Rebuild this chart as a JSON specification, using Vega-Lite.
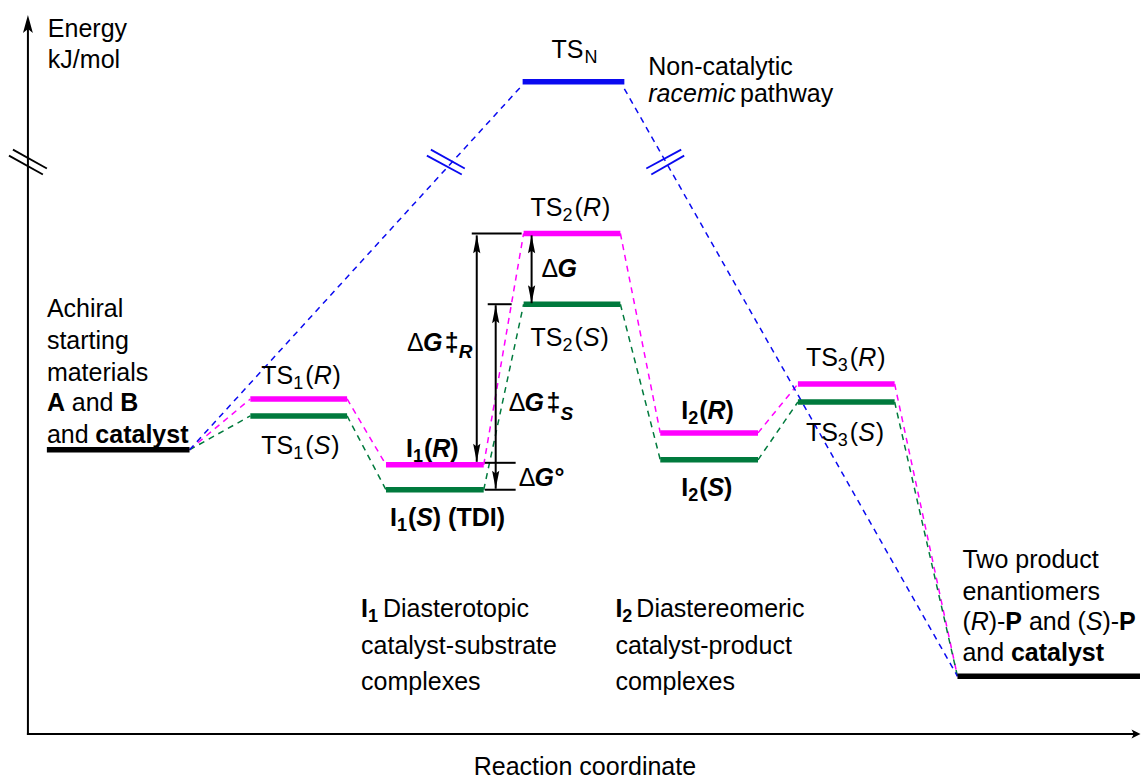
{
  "$schema": "https://vega.github.io/schema/vega-lite/v6.json",
  "width": 1143,
  "height": 780,
  "autosize": {"type": "fit", "contains": "padding"},
  "padding": 0,
  "background": "white",
  "config": {"view": {"stroke": null}},
  "datasets": {
    "axes": [
      {"x": 28, "x2": 28, "e": -286, "e2": 428},
      {"x": 27, "x2": 1137, "e": -285, "e2": -285}
    ],
    "axisUp": [{"x": 28, "e": 427}],
    "axisRight": [{"x": 1139, "e": -285}],
    "breaks": [
      {"path": "common", "x": 13, "e": 301, "x2": 47, "e2": 282},
      {"path": "common", "x": 9, "e": 295, "x2": 43, "e2": 276},
      {"path": "N", "x": 432, "e": 301, "x2": 466, "e2": 282},
      {"path": "N", "x": 428, "e": 295, "x2": 463, "e2": 276},
      {"path": "N", "x": 648, "e": 282, "x2": 683, "e2": 301},
      {"path": "N", "x": 653, "e": 276, "x2": 686, "e2": 295}
    ],
    "connectors": [
      {"path": "R", "x": 190, "e": 0, "x2": 251, "e2": 51},
      {"path": "R", "x": 348, "e": 51, "x2": 387, "e2": -15},
      {"path": "R", "x": 485, "e": -15, "x2": 525, "e2": 217},
      {"path": "R", "x": 622, "e": 217, "x2": 662, "e2": 17},
      {"path": "R", "x": 760, "e": 17, "x2": 800, "e2": 66},
      {"path": "R", "x": 897, "e": 66, "x2": 960, "e2": -227},
      {"path": "S", "x": 190, "e": 0, "x2": 251, "e2": 34},
      {"path": "S", "x": 348, "e": 34, "x2": 387, "e2": -40},
      {"path": "S", "x": 485, "e": -40, "x2": 525, "e2": 146},
      {"path": "S", "x": 622, "e": 146, "x2": 662, "e2": -10},
      {"path": "S", "x": 760, "e": -10, "x2": 800, "e2": 48},
      {"path": "S", "x": 897, "e": 48, "x2": 960, "e2": -227},
      {"path": "N", "x": 190, "e": 0, "x2": 524, "e2": 366},
      {"path": "N", "x": 626, "e": 362, "x2": 960, "e2": -227}
    ],
    "levels": [
      {"state": "A + B + catalyst", "path": "common", "x": 47, "x2": 190, "e": 0},
      {"state": "TS1(R)", "path": "R", "x": 251, "x2": 348, "e": 51},
      {"state": "TS1(S)", "path": "S", "x": 251, "x2": 348, "e": 34},
      {"state": "I1(R)", "path": "R", "x": 387, "x2": 485, "e": -15},
      {"state": "I1(S)", "path": "S", "x": 387, "x2": 485, "e": -40},
      {"state": "TS2(R)", "path": "R", "x": 525, "x2": 622, "e": 217},
      {"state": "TS2(S)", "path": "S", "x": 525, "x2": 622, "e": 146},
      {"state": "TSN", "path": "N", "x": 524, "x2": 626, "e": 369},
      {"state": "I2(R)", "path": "R", "x": 662, "x2": 760, "e": 17},
      {"state": "I2(S)", "path": "S", "x": 662, "x2": 760, "e": -10},
      {"state": "TS3(R)", "path": "R", "x": 800, "x2": 897, "e": 66},
      {"state": "TS3(S)", "path": "S", "x": 800, "x2": 897, "e": 48},
      {"state": "P + catalyst", "path": "common", "x": 960, "x2": 1143, "e": -227}
    ],
    "guides": [
      {"x": 473, "x2": 523, "e": 217, "e2": 217},
      {"x": 489, "x2": 513, "e": 146, "e2": 146},
      {"x": 486, "x2": 517, "e": -13, "e2": -13},
      {"x": 486, "x2": 517, "e": -40, "e2": -40},
      {"x": 478, "x2": 478, "e": 215, "e2": -12},
      {"x": 497, "x2": 497, "e": 145, "e2": -39},
      {"x": 533, "x2": 533, "e": 215, "e2": 147}
    ],
    "headsUp": [
      {"x": 478, "e": 206}, {"x": 497, "e": 136}, {"x": 533, "e": 206}
    ],
    "headsDown": [
      {"x": 478, "e": -3}, {"x": 497, "e": -30}, {"x": 533, "e": 156}
    ],
    "regular": [
      {"t": "Energy", "x": 48, "e": 414},
      {"t": "kJ/mol", "x": 48, "e": 383},
      {"t": "TS", "x": 553, "e": 393},
      {"t": "Non-catalytic", "x": 650, "e": 376},
      {"t": "pathway", "x": 742, "e": 349},
      {"t": "Achiral", "x": 47, "e": 133},
      {"t": "starting", "x": 47, "e": 101},
      {"t": "materials", "x": 47, "e": 69},
      {"t": "and", "x": 72, "e": 39},
      {"t": "and", "x": 47, "e": 7},
      {"t": "TS", "x": 262, "e": 66}, {"t": "(", "x": 306, "e": 66}, {"t": ")", "x": 333.5, "e": 66},
      {"t": "TS", "x": 262, "e": -4}, {"t": "(", "x": 306, "e": -4}, {"t": ")", "x": 332, "e": -4},
      {"t": "TS", "x": 532, "e": 234}, {"t": "(", "x": 576, "e": 234}, {"t": ")", "x": 603.5, "e": 234},
      {"t": "TS", "x": 532, "e": 104}, {"t": "(", "x": 576, "e": 104}, {"t": ")", "x": 602, "e": 104},
      {"t": "TS", "x": 808, "e": 84}, {"t": "(", "x": 852, "e": 84}, {"t": ")", "x": 879.5, "e": 84},
      {"t": "TS", "x": 808, "e": 9}, {"t": "(", "x": 852, "e": 9}, {"t": ")", "x": 878, "e": 9},
      {"t": "Two product", "x": 965, "e": -118},
      {"t": "enantiomers", "x": 965, "e": -151},
      {"t": "(", "x": 965, "e": -181}, {"t": ")-", "x": 991.4, "e": -181}, {"t": "and", "x": 1031.6, "e": -181},
      {"t": "(", "x": 1080.3, "e": -181}, {"t": ")-", "x": 1105.3, "e": -181},
      {"t": "and", "x": 965, "e": -212},
      {"t": "Reaction coordinate", "x": 475, "e": -326},
      {"t": "Δ", "x": 408, "e": 99}, {"t": "Δ", "x": 510, "e": 39}, {"t": "Δ", "x": 543, "e": 173}, {"t": "Δ", "x": 520, "e": -36},
      {"t": "Diasterotopic", "x": 384, "e": -168},
      {"t": "catalyst-substrate", "x": 362, "e": -205},
      {"t": "complexes", "x": 362, "e": -241},
      {"t": "Diastereomeric", "x": 638, "e": -168},
      {"t": "catalyst-product", "x": 617, "e": -205},
      {"t": "complexes", "x": 617, "e": -241}
    ],
    "italic": [
      {"t": "racemic", "x": 650, "e": 349},
      {"t": "R", "x": 314.5, "e": 66}, {"t": "S", "x": 314.5, "e": -4},
      {"t": "R", "x": 584.5, "e": 234}, {"t": "S", "x": 584.5, "e": 104},
      {"t": "R", "x": 860.5, "e": 84}, {"t": "S", "x": 860.5, "e": 9},
      {"t": "R", "x": 973.3, "e": -181}, {"t": "S", "x": 1088.6, "e": -181}
    ],
    "bold": [
      {"t": "A", "x": 47, "e": 39}, {"t": "B", "x": 120.6, "e": 39}, {"t": "catalyst", "x": 95.6, "e": 7},
      {"t": "P", "x": 1008, "e": -181}, {"t": "P", "x": 1122, "e": -181}, {"t": "catalyst", "x": 1013.6, "e": -212},
      {"t": "I", "x": 407, "e": -7}, {"t": "(", "x": 425, "e": -7}, {"t": ")", "x": 451.4, "e": -7},
      {"t": "I", "x": 391, "e": -76}, {"t": "(", "x": 409, "e": -76}, {"t": ")", "x": 434, "e": -76}, {"t": "(TDI)", "x": 449.3, "e": -76},
      {"t": "I", "x": 683, "e": 31}, {"t": "(", "x": 701, "e": 31}, {"t": ")", "x": 727.4, "e": 31},
      {"t": "I", "x": 683, "e": -46}, {"t": "(", "x": 701, "e": -46}, {"t": ")", "x": 726, "e": -46},
      {"t": "I", "x": 362, "e": -168}, {"t": "I", "x": 617, "e": -168},
      {"t": "‡", "x": 446, "e": 99}, {"t": "‡", "x": 548, "e": 39}, {"t": "°", "x": 556, "e": -36}
    ],
    "boldItalic": [
      {"t": "R", "x": 433.3, "e": -7}, {"t": "S", "x": 417.3, "e": -76},
      {"t": "R", "x": 709.3, "e": 31}, {"t": "S", "x": 709.3, "e": -46},
      {"t": "G", "x": 424, "e": 99}, {"t": "G", "x": 526, "e": 39}, {"t": "G", "x": 559, "e": 173}, {"t": "G", "x": 536, "e": -36}
    ],
    "sub": [
      {"t": "N", "x": 586, "e": 388},
      {"t": "1", "x": 294, "e": 61}, {"t": "1", "x": 294, "e": -9},
      {"t": "2", "x": 564, "e": 229}, {"t": "2", "x": 564, "e": 99},
      {"t": "3", "x": 840, "e": 79}, {"t": "3", "x": 840, "e": 4}
    ],
    "boldSub": [
      {"t": "1", "x": 414, "e": -12}, {"t": "1", "x": 398, "e": -81},
      {"t": "2", "x": 690, "e": 26}, {"t": "2", "x": 690, "e": -51},
      {"t": "1", "x": 369, "e": -173}, {"t": "2", "x": 624, "e": -173}
    ],
    "boldItalicSub": [
      {"t": "R", "x": 460, "e": 92}, {"t": "S", "x": 562, "e": 30}
    ]
  },
  "layer": [
    {
      "data": {"name": "axes"},
      "mark": {"type": "rule", "strokeWidth": 2, "color": "black", "strokeCap": "butt"},
      "encoding": {
        "x": {"field": "x", "type": "quantitative", "scale": {"domain": [0, 1143], "nice": false, "zero": false}, "axis": null},
        "x2": {"field": "x2"},
        "y": {"field": "e", "type": "quantitative", "scale": {"domain": [-329, 451], "nice": false, "zero": false}, "axis": null},
        "y2": {"field": "e2"}
      }
    },
    {
      "data": {"name": "axisUp"},
      "mark": {"type": "point", "shape": "M0,-1L0.55,1L0,0.55L-0.55,1Z", "size": 324, "filled": true, "color": "black", "opacity": 1, "strokeWidth": 0},
      "encoding": {
        "x": {"field": "x", "type": "quantitative", "scale": {"domain": [0, 1143], "nice": false, "zero": false}, "axis": null},
        "y": {"field": "e", "type": "quantitative", "scale": {"domain": [-329, 451], "nice": false, "zero": false}, "axis": null}
      }
    },
    {
      "data": {"name": "axisRight"},
      "mark": {"type": "point", "shape": "M1,0L-1,-1L-0.5,0L-1,1Z", "size": 81, "filled": true, "color": "black", "opacity": 1, "strokeWidth": 0},
      "encoding": {
        "x": {"field": "x", "type": "quantitative", "scale": {"domain": [0, 1143], "nice": false, "zero": false}, "axis": null},
        "y": {"field": "e", "type": "quantitative", "scale": {"domain": [-329, 451], "nice": false, "zero": false}, "axis": null}
      }
    },
    {
      "data": {"name": "connectors"},
      "mark": {"type": "rule", "strokeWidth": 1.5, "strokeDash": [6, 5]},
      "encoding": {
        "x": {"field": "x", "type": "quantitative", "scale": {"domain": [0, 1143], "nice": false, "zero": false}, "axis": null},
        "x2": {"field": "x2"},
        "y": {"field": "e", "type": "quantitative", "scale": {"domain": [-329, 451], "nice": false, "zero": false}, "axis": null},
        "y2": {"field": "e2"},
        "color": {"field": "path", "type": "nominal", "scale": {"domain": ["common", "R", "S", "N"], "range": ["#000000", "#FF00FF", "#007A3D", "#0A0AF0"]}, "legend": null}
      }
    },
    {
      "data": {"name": "breaks"},
      "mark": {"type": "rule", "strokeWidth": 1.8},
      "encoding": {
        "x": {"field": "x", "type": "quantitative", "scale": {"domain": [0, 1143], "nice": false, "zero": false}, "axis": null},
        "x2": {"field": "x2"},
        "y": {"field": "e", "type": "quantitative", "scale": {"domain": [-329, 451], "nice": false, "zero": false}, "axis": null},
        "y2": {"field": "e2"},
        "color": {"field": "path", "type": "nominal", "scale": {"domain": ["common", "R", "S", "N"], "range": ["#000000", "#FF00FF", "#007A3D", "#0A0AF0"]}, "legend": null}
      }
    },
    {
      "data": {"name": "levels"},
      "mark": {"type": "rule", "strokeWidth": 5.5, "strokeCap": "butt"},
      "encoding": {
        "x": {"field": "x", "type": "quantitative", "scale": {"domain": [0, 1143], "nice": false, "zero": false}, "axis": null},
        "x2": {"field": "x2"},
        "y": {"field": "e", "type": "quantitative", "scale": {"domain": [-329, 451], "nice": false, "zero": false}, "axis": null},
        "color": {"field": "path", "type": "nominal", "scale": {"domain": ["common", "R", "S", "N"], "range": ["#000000", "#FF00FF", "#007A3D", "#0A0AF0"]}, "legend": null},
        "tooltip": {"field": "state"}
      }
    },
    {
      "data": {"name": "guides"},
      "mark": {"type": "rule", "strokeWidth": 2, "color": "black", "strokeCap": "butt"},
      "encoding": {
        "x": {"field": "x", "type": "quantitative", "scale": {"domain": [0, 1143], "nice": false, "zero": false}, "axis": null},
        "x2": {"field": "x2"},
        "y": {"field": "e", "type": "quantitative", "scale": {"domain": [-329, 451], "nice": false, "zero": false}, "axis": null},
        "y2": {"field": "e2"}
      }
    },
    {
      "data": {"name": "headsUp"},
      "mark": {"type": "point", "shape": "M0,-1L0.4,1L0,0.7L-0.4,1Z", "size": 324, "filled": true, "color": "black", "opacity": 1, "strokeWidth": 0},
      "encoding": {
        "x": {"field": "x", "type": "quantitative", "scale": {"domain": [0, 1143], "nice": false, "zero": false}, "axis": null},
        "y": {"field": "e", "type": "quantitative", "scale": {"domain": [-329, 451], "nice": false, "zero": false}, "axis": null}
      }
    },
    {
      "data": {"name": "headsDown"},
      "mark": {"type": "point", "shape": "M0,1L0.4,-1L0,-0.7L-0.4,-1Z", "size": 324, "filled": true, "color": "black", "opacity": 1, "strokeWidth": 0},
      "encoding": {
        "x": {"field": "x", "type": "quantitative", "scale": {"domain": [0, 1143], "nice": false, "zero": false}, "axis": null},
        "y": {"field": "e", "type": "quantitative", "scale": {"domain": [-329, 451], "nice": false, "zero": false}, "axis": null}
      }
    },
    {
      "data": {"name": "regular"},
      "mark": {"type": "text", "font": "Liberation Sans", "fontSize": 25, "align": "left", "baseline": "alphabetic", "color": "black"},
      "encoding": {
        "x": {"field": "x", "type": "quantitative", "scale": {"domain": [0, 1143], "nice": false, "zero": false}, "axis": null},
        "y": {"field": "e", "type": "quantitative", "scale": {"domain": [-329, 451], "nice": false, "zero": false}, "axis": null},
        "text": {"field": "t"}
      }
    },
    {
      "data": {"name": "italic"},
      "mark": {"type": "text", "font": "Liberation Sans", "fontSize": 25, "fontStyle": "italic", "align": "left", "baseline": "alphabetic", "color": "black"},
      "encoding": {
        "x": {"field": "x", "type": "quantitative", "scale": {"domain": [0, 1143], "nice": false, "zero": false}, "axis": null},
        "y": {"field": "e", "type": "quantitative", "scale": {"domain": [-329, 451], "nice": false, "zero": false}, "axis": null},
        "text": {"field": "t"}
      }
    },
    {
      "data": {"name": "bold"},
      "mark": {"type": "text", "font": "Liberation Sans", "fontSize": 25, "fontWeight": "bold", "align": "left", "baseline": "alphabetic", "color": "black"},
      "encoding": {
        "x": {"field": "x", "type": "quantitative", "scale": {"domain": [0, 1143], "nice": false, "zero": false}, "axis": null},
        "y": {"field": "e", "type": "quantitative", "scale": {"domain": [-329, 451], "nice": false, "zero": false}, "axis": null},
        "text": {"field": "t"}
      }
    },
    {
      "data": {"name": "boldItalic"},
      "mark": {"type": "text", "font": "Liberation Sans", "fontSize": 25, "fontWeight": "bold", "fontStyle": "italic", "align": "left", "baseline": "alphabetic", "color": "black"},
      "encoding": {
        "x": {"field": "x", "type": "quantitative", "scale": {"domain": [0, 1143], "nice": false, "zero": false}, "axis": null},
        "y": {"field": "e", "type": "quantitative", "scale": {"domain": [-329, 451], "nice": false, "zero": false}, "axis": null},
        "text": {"field": "t"}
      }
    },
    {
      "data": {"name": "sub"},
      "mark": {"type": "text", "font": "Liberation Sans", "fontSize": 18, "align": "left", "baseline": "alphabetic", "color": "black"},
      "encoding": {
        "x": {"field": "x", "type": "quantitative", "scale": {"domain": [0, 1143], "nice": false, "zero": false}, "axis": null},
        "y": {"field": "e", "type": "quantitative", "scale": {"domain": [-329, 451], "nice": false, "zero": false}, "axis": null},
        "text": {"field": "t"}
      }
    },
    {
      "data": {"name": "boldSub"},
      "mark": {"type": "text", "font": "Liberation Sans", "fontSize": 18, "fontWeight": "bold", "align": "left", "baseline": "alphabetic", "color": "black"},
      "encoding": {
        "x": {"field": "x", "type": "quantitative", "scale": {"domain": [0, 1143], "nice": false, "zero": false}, "axis": null},
        "y": {"field": "e", "type": "quantitative", "scale": {"domain": [-329, 451], "nice": false, "zero": false}, "axis": null},
        "text": {"field": "t"}
      }
    },
    {
      "data": {"name": "boldItalicSub"},
      "mark": {"type": "text", "font": "Liberation Sans", "fontSize": 19, "fontWeight": "bold", "fontStyle": "italic", "align": "left", "baseline": "alphabetic", "color": "black"},
      "encoding": {
        "x": {"field": "x", "type": "quantitative", "scale": {"domain": [0, 1143], "nice": false, "zero": false}, "axis": null},
        "y": {"field": "e", "type": "quantitative", "scale": {"domain": [-329, 451], "nice": false, "zero": false}, "axis": null},
        "text": {"field": "t"}
      }
    }
  ]
}
